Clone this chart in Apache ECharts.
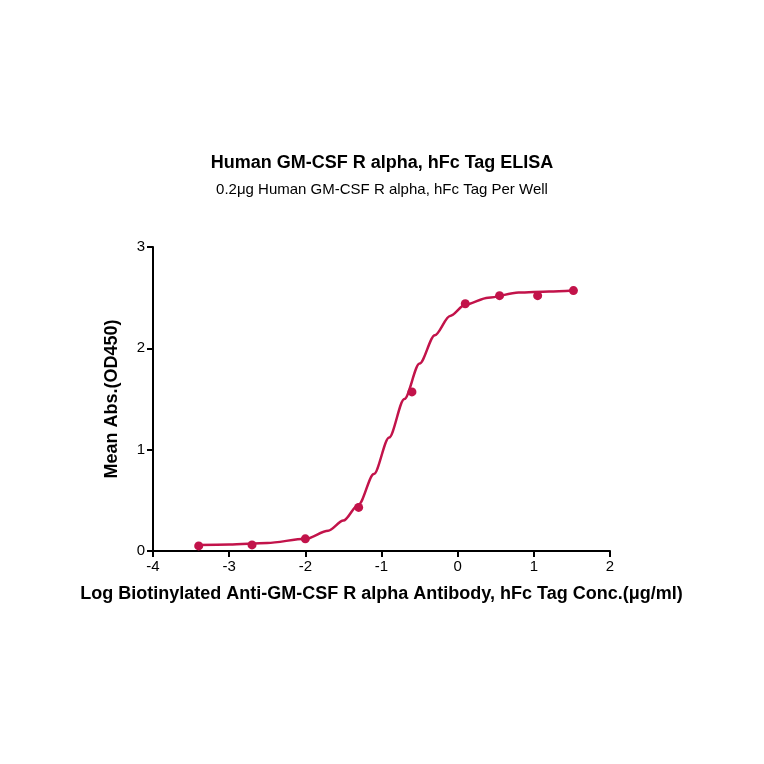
<!DOCTYPE html>
<html>
<head>
<meta charset="utf-8">
<script src="https://cdn.jsdelivr.net/npm/echarts@6/dist/echarts.min.js"></script>
<style>html,body{margin:0;padding:0;background:#fff}#main{width:764px;height:764px}</style>
</head>
<body>
<div id="main"></div>
<script>
// measured points (log conc, OD450)
var pointX = [-3.4, -2.7, -2.0, -1.3, -0.6, 0.1, 0.55, 1.05, 1.52];
var pointY = [0.05, 0.06, 0.12, 0.43, 1.57, 2.44, 2.52, 2.52, 2.57];
// fitted curve
var curveX = [-3.4, -3.0, -2.5, -2.0, -1.7, -1.5, -1.3, -1.1, -0.9, -0.7, -0.5, -0.3, -0.1, 0.1, 0.4, 0.8, 1.2, 1.52];
var curveY = [0.06, 0.065, 0.08, 0.12, 0.2, 0.3, 0.46, 0.76, 1.12, 1.5, 1.85, 2.13, 2.32, 2.43, 2.5, 2.55, 2.56, 2.57];

var color = '#c2134a';
var myChart = echarts.init(document.getElementById('main'));

var option = {
    backgroundColor: '#fff',
    title: [{
        text: 'Human GM-CSF R alpha, hFc Tag ELISA',
        left: 'center', top: 149,
        textStyle: {color: '#000', fontSize: 18, fontWeight: 'bold', fontFamily: 'Liberation Sans'}
    }, {
        text: '0.2μg Human GM-CSF R alpha, hFc Tag Per Well',
        left: 'center', top: 177,
        textStyle: {color: '#000', fontSize: 15, fontWeight: 'normal', fontFamily: 'Liberation Sans'}
    }],
    grid: {left: 153, right: 154, top: 247, bottom: 213},
    xAxis: {
        type: 'value', min: -4, max: 2, interval: 1,
        name: 'Log Biotinylated Anti-GM-CSF R alpha Antibody, hFc Tag Conc.(μg/ml)',
        nameLocation: 'middle', nameGap: 34,
        nameTextStyle: {color: '#000', fontSize: 18, fontWeight: 'bold', fontFamily: 'Liberation Sans'},
        axisLine: {onZero: false, lineStyle: {color: '#000', width: 2}},
        axisTick: {lineStyle: {color: '#000', width: 2}, length: 6},
        axisLabel: {color: '#000', fontSize: 15, fontFamily: 'Liberation Sans'},
        splitLine: {show: false}
    },
    yAxis: {
        type: 'value', min: 0, max: 3, interval: 1,
        name: 'Mean Abs.(OD450)',
        nameLocation: 'middle', nameGap: 32,
        nameTextStyle: {color: '#000', fontSize: 18, fontWeight: 'bold', fontFamily: 'Liberation Sans'},
        axisLine: {show: true, onZero: false, lineStyle: {color: '#000', width: 2}},
        axisTick: {show: true, lineStyle: {color: '#000', width: 2}, length: 6},
        axisLabel: {color: '#000', fontSize: 15, fontFamily: 'Liberation Sans'},
        splitLine: {show: false}
    },
    series: [{
        type: 'line',
        data: curveX.map(function (x, i) { return [x, curveY[i]]; }),
        smooth: 0.3, smoothMonotone: 'x', showSymbol: false,
        lineStyle: {color: color, width: 2.5}
    }, {
        type: 'scatter',
        data: pointX.map(function (x, i) { return [x, pointY[i]]; }),
        symbolSize: 9,
        itemStyle: {color: color, opacity: 1}
    }]
};

myChart.setOption(option);
</script>
</body>
</html>
